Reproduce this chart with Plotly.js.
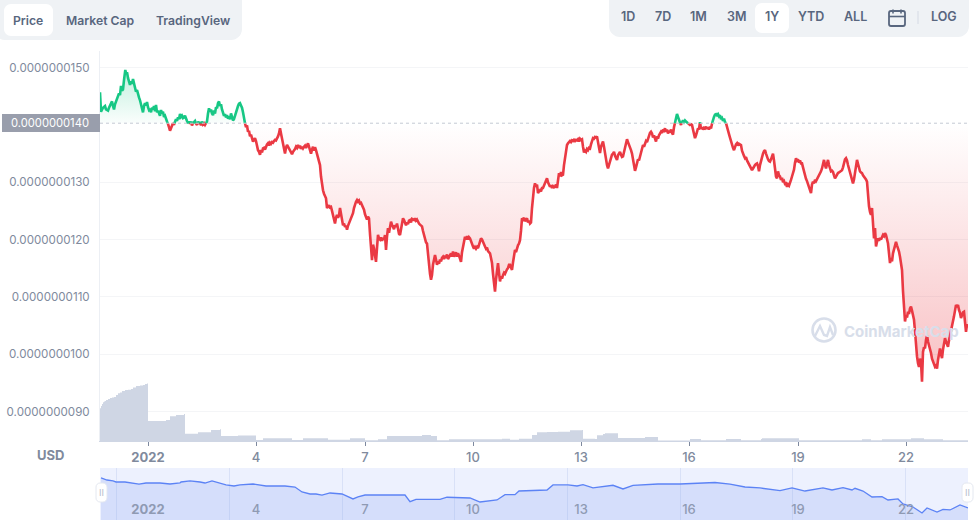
<!DOCTYPE html>
<html>
<head>
<meta charset="utf-8">
<script src="https://cdn.plot.ly/plotly-3.0.1.min.js"></script>
<style>html,body{margin:0;padding:0;background:#fff;overflow:hidden}#chart{width:977px;height:527px}</style>
</head>
<body>
<div id="chart"></div>
<script>
const sampleIndex = [
0,0.4,1,3,5,6,8,9,10.5,12,
13,14,15,16.5,18,19,20,21,22,23,
24,25.3,26,27,28,29,30,31,32,33,
34,35,36,37,38,39,40,41,42,43,
44,45,46,47,48,49,50,51,52,53,
54,55,56,57,58,59,60,61,62,63,
64,65,66,67,68,69,70,71,72,73,
74,75,76,77,78,79,80,81,82,83,
84,85,86,87,88,89,90,91,92,93,
94,95,96,97,98,99,100,101,102,103,
104,105,106,107,108,109,110,111,112,113,
114,115,116,117,118,119,120,121,122,123,
124,125,126,127,128,129,130,131,132,133,
134,135,136,137,138,139,140,141,142,143,
144,145,146,147,148,149,150,151,152,153,
154,155,156,157,158,159,160,161,162,163,
164,165,166,167,168,169,170,171,172,173,
174,175,176,177,178,179,180,181,182,183,
184,185,186,187,188,189,190,191,192,193,
194,195,196,197,198,199,200,201,202,203,
204,205,206,207,208,209,210,211,212,213,
214,215,216,217,218,219,220,221,222,223,
224,225,226,227,228,229,230,231,232,233,
234,235,236,237,238,239,240,241,242,243,
244,245,246,247,248,249,250,251,252,253,
254,255,256,257,258,259,260,261,262,263,
264,265,266,267,268,269,270,271,272,273,
274,275,276,277,278,279,280,281,282,283,
284,285,286,287,288,289,290,291,292,293,
294,295,296,297,298,299,300,301,302,303,
304,305,306,307,308,309,310,311,312,313,
314,315,316,317,318,319,320,321,322,323,
324,325,326,327,328,329,330,331,332,333,
334,335,336,337,338,339,340,341,342,343,
344,345,346,347,348,349,350,351,352,353,
354,355,356,357,358,359,360,361,362,363,
364,365,366,367,368,369,370,371,372,373,
374,375,376,377,378,379,380,381,382,383,
384,385,386,387,388,389,390,391,392,393,
394,395,396,397,398,399,400,401,402,403,
404,405,406,407,408,409,410,411,412,413,
414,415,416,417,418,419,420,421,422,423,
424,425,426,427,428,429,430,431,432,433,
434,435,436,437,438,439,440,441,442,443,
444,445,446,447,448,449,450,451,452,453,
454,455,456,457,458,459,460,461,462,463,
464,465,466,467,468,469,470,471,472,473,
474,475,476,477,478,479,480,481,482,483,
484,485,486,487,488,489,490,491,492,493,
494,495,496,497,498,499,500,501,502,503,
504,505,506,507,508,509,510,511,512,513,
514,515,516,517,518,519,520,521,522,523,
524,525,526,527,528,529,530,531,532,533,
534,535,536,537,538,539,540,541,542,543,
544,545,546,547,548,549,550,551,552,553,
554,555,556,557,558,559,560,561,562,563,
564,565,566,567,568,569,570,571,572,573,
574,575,576,577,578,579,580,581,582,583,
584,585,586,587,588,589,590,591,592,593,
594,595,596,597,598,599,600,601,602,603,
604,605,606,607,608,609,610,611,612,613,
614,615,616,617,618,619,620,621,622,623,
624,625,626,627,628,629,630,631,632,633,
634,635,636,637,638,639,640,641,642,643,
644,645,646,647,648,649,650,651,652,653,
654,655,656,657,658,659,660,661,662,663,
664,665,666,667,668,669,670,671,672,673,
674,675,676,677,678,679,680,681,682,683,
684,685,686,687,688,689,690,691,692,693,
694,695,696,697,698,699,700,701,702,703,
704,705,706,707,708,709,710,711,712,713,
714,715,716,717,718,719,720,721,722,723,
724,725,726,727,728,729,730,731,732,733,
734,735,736,737,738,739,740,741,742,743,
744,745,746,747,748,749,750,751,752,753,
754,755,756,757,758,759,760,761,762,763,
764,765,766,767,768,769,770,771,772,773,
774,775,776,777,778,779,780,781,782,783,
784,785,786,787,788,789,790,791,792,793,
794,795,796,797,798,799,800,801,802,803,
804,805,806,807,808,809,810,811,812,813,
814,815,816,817,818,819,820,821,822,823,
824,825,826,827,828,829,830,831,832,833,
834,835,836,837,838,839,840,841,842,843,
844,845,846,847,848,849,850,851,852,853,
854,855,856,857,858,859,860,861,862,863,
864,865,866,867,868];
const priceNanoUsd = [
14.57,14.26,14.23,14.30,14.33,14.27,14.25,14.30,14.35,14.41,
14.33,14.27,14.36,14.43,14.50,14.55,14.52,14.68,14.60,14.62,
14.78,14.96,14.90,14.92,14.82,14.74,14.70,14.76,14.72,14.80,
14.74,14.66,14.58,14.61,14.52,14.48,14.43,14.36,14.30,14.22,
14.33,14.38,14.34,14.40,14.31,14.26,14.28,14.22,14.30,14.27,
14.33,14.24,14.35,14.22,14.25,14.18,14.16,14.26,14.20,14.23,
14.14,14.16,14.08,14.06,14.02,13.96,13.90,13.95,13.99,14.03,
14.00,14.07,14.10,14.07,14.13,14.10,14.19,14.14,14.16,14.12,
14.13,14.16,14.10,14.07,14.03,14.06,14.02,14.06,13.99,14.04,
14.05,14.07,14.02,14.00,14.06,14.02,14.05,13.99,14.06,14.01,
14.03,14.00,14.03,14.06,14.20,14.29,14.23,14.27,14.20,14.17,
14.25,14.20,14.31,14.29,14.38,14.41,14.33,14.36,14.27,14.23,
14.16,14.19,14.13,14.17,14.11,14.15,14.10,14.20,14.14,14.08,
14.10,14.17,14.24,14.30,14.33,14.37,14.38,14.34,14.30,14.22,
14.10,14.03,13.96,13.99,13.88,13.90,13.80,13.83,13.76,13.71,
13.74,13.77,13.72,13.62,13.56,13.53,13.48,13.56,13.52,13.59,
13.60,13.57,13.62,13.66,13.68,13.64,13.69,13.67,13.70,13.69,
13.72,13.74,13.73,13.76,13.80,13.85,13.94,13.85,13.77,13.68,
13.62,13.50,13.60,13.65,13.62,13.58,13.56,13.52,13.49,13.53,
13.55,13.58,13.62,13.60,13.65,13.60,13.64,13.58,13.62,13.59,
13.62,13.64,13.60,13.66,13.68,13.62,13.56,13.50,13.57,13.62,
13.55,13.61,13.56,13.50,13.46,13.40,13.30,13.10,12.92,12.86,
12.80,12.76,12.72,12.55,12.58,12.60,12.56,12.57,12.50,12.44,
12.36,12.28,12.38,12.43,12.38,12.42,12.55,12.44,12.34,12.25,
12.28,12.22,12.24,12.17,12.24,12.28,12.34,12.38,12.43,12.46,
12.55,12.62,12.66,12.69,12.66,12.68,12.63,12.64,12.60,12.56,
12.52,12.44,12.40,12.35,12.40,12.37,12.10,11.80,11.64,11.91,
11.85,11.72,11.61,11.85,12.08,12.02,12.00,12.04,11.98,12.03,
12.00,12.08,11.82,12.05,12.20,12.12,12.26,12.31,12.26,12.20,
12.18,12.25,12.22,12.28,12.14,12.10,12.08,12.20,12.30,12.37,
12.34,12.28,12.25,12.30,12.27,12.33,12.34,12.30,12.36,12.35,
12.34,12.37,12.33,12.35,12.30,12.28,12.26,12.25,12.23,12.15,
12.08,12.05,11.95,11.93,11.72,11.56,11.40,11.30,11.38,11.56,
11.67,11.73,11.65,11.56,11.62,11.58,11.65,11.62,11.68,11.70,
11.66,11.72,11.68,11.74,11.66,11.70,11.72,11.76,11.70,11.79,
11.70,11.74,11.78,11.70,11.76,11.72,11.66,11.61,11.78,11.90,
12.00,12.05,12.00,12.06,12.00,12.04,12.02,11.96,11.90,11.88,
11.84,11.87,11.84,11.87,11.85,11.90,11.98,12.02,12.00,11.95,
11.92,11.88,11.84,11.86,11.80,11.78,11.76,11.68,11.59,11.40,
11.20,11.09,11.30,11.45,11.59,11.42,11.27,11.36,11.32,11.38,
11.42,11.40,11.46,11.48,11.50,11.56,11.56,11.52,11.47,11.60,
11.72,11.82,11.78,11.85,11.90,11.93,11.99,12.15,12.37,12.35,
12.38,12.32,12.36,12.37,12.30,12.33,12.28,12.30,12.55,12.75,
12.90,12.98,12.92,12.96,12.81,12.84,12.86,12.84,12.90,12.90,
12.95,13.00,13.02,13.07,13.00,12.96,12.92,12.95,12.90,12.93,
12.91,12.92,12.96,12.90,13.05,13.16,13.10,13.18,13.12,13.13,
13.30,13.45,13.58,13.65,13.68,13.70,13.72,13.70,13.73,13.72,
13.74,13.72,13.74,13.73,13.75,13.71,13.76,13.74,13.75,13.62,
13.52,13.55,13.53,13.58,13.56,13.60,13.59,13.66,13.72,13.77,
13.76,13.79,13.78,13.80,13.70,13.62,13.51,13.62,13.68,13.71,
13.62,13.50,13.38,13.30,13.24,13.30,13.36,13.44,13.48,13.50,
13.53,13.46,13.42,13.39,13.47,13.50,13.53,13.48,13.44,13.45,
13.54,13.62,13.68,13.75,13.70,13.66,13.60,13.56,13.50,13.38,
13.28,13.20,13.26,13.34,13.40,13.38,13.45,13.55,13.60,13.65,
13.62,13.68,13.72,13.70,13.76,13.84,13.86,13.88,13.85,13.78,
13.82,13.76,13.71,13.80,13.76,13.82,13.84,13.88,13.86,13.92,
13.90,13.94,13.88,13.92,13.85,13.90,13.87,13.92,13.86,13.83,
13.96,14.04,14.12,14.19,14.14,14.07,14.04,14.00,14.05,14.08,
14.05,14.08,14.06,14.05,14.03,14.02,14.00,14.01,14.00,13.92,
13.84,13.77,13.82,13.88,13.94,13.92,14.05,13.93,13.96,13.92,
13.95,13.94,13.97,13.93,13.96,13.92,13.97,13.94,14.02,14.10,
14.14,14.18,14.19,14.17,14.19,14.15,14.17,14.10,14.12,14.07,
14.11,14.05,14.03,13.95,13.90,13.84,13.78,13.71,13.66,13.60,
13.56,13.62,13.66,13.68,13.64,13.67,13.66,13.65,13.55,13.48,
13.46,13.42,13.44,13.38,13.34,13.30,13.26,13.22,13.21,13.24,
13.28,13.30,13.32,13.33,13.28,13.19,13.30,13.38,13.46,13.50,
13.54,13.56,13.50,13.44,13.40,13.37,13.36,13.40,13.46,13.50,
13.38,13.20,13.10,13.07,13.19,13.12,13.10,13.04,13.08,13.00,
13.02,12.97,12.98,12.92,12.96,12.94,12.98,13.04,13.10,13.16,
13.22,13.34,13.42,13.38,13.40,13.34,13.38,13.33,13.33,13.26,
13.18,13.10,13.06,13.02,12.96,12.90,12.84,12.81,12.96,13.01,
12.98,13.04,13.02,13.05,13.10,13.12,13.16,13.19,13.24,13.32,
13.39,13.30,13.24,13.32,13.39,13.30,13.24,13.19,13.20,13.18,
13.12,13.07,13.10,13.14,13.16,13.17,13.18,13.19,13.21,13.26,
13.34,13.40,13.42,13.38,13.30,13.24,13.18,13.10,13.02,12.98,
13.05,13.18,13.32,13.39,13.32,13.24,13.19,13.17,13.16,13.12,
13.10,13.08,13.05,13.01,12.69,12.58,12.48,12.43,12.55,12.30,
12.02,12.20,11.88,11.96,12.02,11.98,12.03,12.00,12.05,12.08,
12.06,12.11,12.08,12.02,11.93,11.76,11.59,11.68,11.62,11.76,
11.84,11.90,11.96,11.90,11.86,11.79,11.70,11.60,11.47,11.10,
10.71,10.57,10.68,10.64,10.74,10.70,10.80,10.83,10.76,10.66,
10.60,10.40,10.15,9.96,9.84,9.78,9.92,9.87,9.52,10.04,
10.12,10.10,10.25,10.33,10.22,10.16,10.10,10.02,9.92,9.87,
9.84,9.78,9.80,9.75,9.90,10.02,10.10,10.00,9.93,10.08,
10.20,10.28,10.22,10.18,10.13,10.24,10.32,10.38,10.45,10.54,
10.66,10.76,10.86,10.82,10.86,10.77,10.72,10.63,10.70,10.73,
10.74,10.55,10.39,10.52,10.46];
const basePrice = 14.03;

const volumeIndex = [0,1,2,3,4,5,6,8,10,12,14,16,18,20,22,25,28,31,33,36,40,43,45,47.5,48,66,70,76,84,85,98,111,120,121,138,156,157,163,192,203,228,250,265,278,287,322,331,337,349,402,403,410,419,432,437,440,447,458,470,482,483,495,497,503,505,517,518,543,545,554,558,590,601,626,641,661,662,698,699,762,771,782,811,824,843,868];
const volumeValue = [32.7,35,37,38.7,39.5,40,41,42,43,43.5,44,46,47.7,48.5,50,51,51.3,52,53.5,55,55.5,56,57,58,20,21,24.7,26,27,7.3,8.7,11,11.7,5,5.5,1,1,2.7,1,2.7,1.3,2.7,0.7,1.7,5,6,5,0.7,1.7,2.3,2.3,1.3,2.3,6,8.7,8.7,9,9.3,10.7,11,2.3,2,5.7,7,7.7,7.7,3,3,4,4,0.5,2,0.7,2,0.7,2,2.7,2.7,0.7,1.7,0.7,1.7,2.7,1.7,0.7,0.7];

const navIndex = [1,7,13,16,25,33,39,46,60,70,80,81,90,100,105,112,118,126,134,140,153,158,166,175,185,195,198,202,210,216,222,230,242,250,253,258,265,280,295,305,310,316,340,347,370,380,397,405,415,419,447,453,468,477,483,493,513,523,533,558,580,600,615,630,645,660,670,680,692,705,723,732,743,752,755,763,772,782,788,798,803,813,822,827,837,843,850,860,868];
const navPrice = [14.93,14.61,14.46,14.30,14.30,14.14,13.98,14.14,14.14,13.98,14.14,14.30,14.46,14.30,14.14,14.46,14.14,13.83,13.67,13.83,13.98,13.83,13.67,13.67,13.67,13.51,13.20,12.73,12.41,12.41,12.25,12.57,12.41,11.78,11.63,11.94,12.25,12.25,12.25,12.25,11.2,11.58,11.58,11.9,11.78,11.15,11.47,12.3,12.3,12.88,13.04,13.83,13.83,13.67,13.87,13.36,13.78,13.2,13.78,13.98,13.98,14.14,14.22,13.98,13.51,13.36,13.2,12.93,13.36,12.88,13.36,13.04,13.4,13.04,13.31,12.88,11.94,11.99,11.47,11.63,10.84,10.37,9.42,10.21,9.58,10.0,9.9,10.68,10.21];

const priceTicks = [15,13,12,11,10,9];
const priceTickLabels = ['0.0000000150','0.0000000130','0.0000000120','0.0000000110','0.0000000100','0.0000000090'];
const baseLabel = '0.0000000140';
const timeTicks = [48,156,265,373,481,589,698,806];
const timeLabels = ['<b>2022</b>','4','7','10','13','16','19','22'];
const navGridTicks = [16,129,242,354,467,580,692,805];
const leftTabs = ['Price','Market Cap','TradingView'];
const rightTabs = ['1D','7D','1M','3M','1Y','YTD','ALL','LOG'];

// split the price line where it crosses the base price
const xs = [], ys = [];
for (let i = 0; i < sampleIndex.length; i++) {
  if (i > 0) {
    const a = priceNanoUsd[i-1], b = priceNanoUsd[i];
    if ((a - basePrice) * (b - basePrice) < 0) {
      const t = (basePrice - a) / (b - a);
      xs.push(sampleIndex[i-1] + t * (sampleIndex[i] - sampleIndex[i-1]));
      ys.push(basePrice);
    }
  }
  xs.push(sampleIndex[i]); ys.push(priceNanoUsd[i]);
}
const above = ys.map(v => v >= basePrice ? v : null);
const below = ys.map(v => v <= basePrice ? v : null);
const clipUp = ys.map(v => Math.max(v, basePrice));
const clipDn = ys.map(v => Math.min(v, basePrice));
const baseRow = ys.map(() => basePrice);

const GREEN = '#16c784', RED = '#ea3943', TXT = '#808a9d', CHIP = '#eff2f5', DARK = '#58667e';
const hidden = {width: 0};
const traces = [
  {x: xs, y: baseRow, mode: 'lines', line: hidden, hoverinfo: 'skip', showlegend: false},
  {x: xs, y: clipUp, mode: 'lines', line: hidden, fill: 'tonexty', hoverinfo: 'skip', showlegend: false,
   fillgradient: {type: 'vertical', start: basePrice, stop: 15,
     colorscale: [[0, 'rgba(22,199,132,0.02)'], [1, 'rgba(22,199,132,0.28)']]}},
  {x: xs, y: baseRow, mode: 'lines', line: hidden, hoverinfo: 'skip', showlegend: false},
  {x: xs, y: clipDn, mode: 'lines', line: hidden, fill: 'tonexty', hoverinfo: 'skip', showlegend: false,
   fillgradient: {type: 'vertical', start: 9.5, stop: basePrice,
     colorscale: [[0, 'rgba(234,57,67,0.32)'], [1, 'rgba(234,57,67,0.0)']]}},
  {x: volumeIndex, y: volumeValue, yaxis: 'y2', mode: 'lines', line: {shape: 'hv', width: 0}, fill: 'tozeroy',
   fillcolor: '#cfd6e4', hoverinfo: 'skip', showlegend: false},
  {x: xs, y: below, mode: 'lines', line: {color: RED, width: 2.6}, hoverinfo: 'skip', showlegend: false},
  {x: xs, y: above, mode: 'lines', line: {color: GREEN, width: 2.6}, hoverinfo: 'skip', showlegend: false},
  {x: navIndex, y: navPrice, xaxis: 'x2', yaxis: 'y3', mode: 'lines', line: {color: '#5c83f5', width: 1.3},
   fill: 'tozeroy', fillcolor: 'rgba(120,150,240,0.2)', hoverinfo: 'skip', showlegend: false}
];

// page pixel to paper coordinates for the surrounding chrome
const L = 100, R = 968, T = 51, B = 520;
const xp = x => (x - L) / (R - L);
const yp = y => (B - y) / (B - T);
function roundRect(x0, y0, x1, y1, r) {
  const k = 0.45 * r;
  const P = (x, y) => xp(x) + ',' + yp(y);
  return 'M' + P(x0 + r, y0) + ' L' + P(x1 - r, y0) +
    ' C' + P(x1 - k, y0) + ' ' + P(x1, y0 + k) + ' ' + P(x1, y0 + r) +
    ' L' + P(x1, y1 - r) + ' C' + P(x1, y1 - k) + ' ' + P(x1 - k, y1) + ' ' + P(x1 - r, y1) +
    ' L' + P(x0 + r, y1) + ' C' + P(x0 + k, y1) + ' ' + P(x0, y1 - k) + ' ' + P(x0, y1 - r) +
    ' L' + P(x0, y0 + r) + ' C' + P(x0, y0 + k) + ' ' + P(x0 + k, y0) + ' ' + P(x0 + r, y0) + ' Z';
}
const box = (x0, y0, x1, y1, r, fill, line, w) => ({type: 'path', xref: 'paper', yref: 'paper', path: roundRect(x0, y0, x1, y1, r),
  fillcolor: fill, line: line ? {color: line, width: w || 1} : {width: 0}});
const stroke = (pts, color, width) => ({type: 'path', xref: 'paper', yref: 'paper',
  path: 'M' + pts.map(p => xp(p[0]) + ',' + yp(p[1])).join(' L'), line: {color, width}});
const circle = (cx, cy, r, color, width) => ({type: 'circle', xref: 'paper', yref: 'paper',
  x0: xp(cx - r), x1: xp(cx + r), y0: yp(cy + r), y1: yp(cy - r), line: {color, width}});
const label = (text, x, y, size, color, weight, anchor) => ({text, xref: 'paper', yref: 'paper', x: xp(x), y: yp(y),
  xanchor: anchor || 'center', yanchor: 'middle', showarrow: false, font: {family: 'Inter, sans-serif', size, color, weight: weight || 600}});

const leftX = [28, 99.5, 192.5];
const rightX = [628, 663, 698, 736, 772, 811, 855, 944];

const shapes = [
  {type: 'rect', xref: 'x2 domain', yref: 'y3 domain', x0: 0, x1: 1, y0: 0, y1: 1, fillcolor: '#edf1fe', line: {width: 0}, layer: 'below'},
  {type: 'line', xref: 'x domain', yref: 'y', x0: 0, x1: 1, y0: basePrice, y1: basePrice, line: {color: '#c4c9d4', width: 1, dash: 'dot'}},
  box(-6, -10, 242, 40, 11, CHIP),
  box(4, 4, 53, 36, 7, '#ffffff'),
  box(609, -10, 969, 37, 11, CHIP),
  box(755, 3, 789, 33, 7, '#ffffff'),
  box(889, 11, 905, 26, 2, 'rgba(0,0,0,0)', DARK, 1.8),
  stroke([[889, 16.5], [905, 16.5]], DARK, 1.6),
  stroke([[893, 9.5], [893, 13.5]], DARK, 1.6),
  stroke([[901, 9.5], [901, 13.5]], DARK, 1.6),
  stroke([[918, 11], [918, 24]], '#d5dae4', 1),
  box(2, 114, 100, 132, 0, '#999eac'),
  circle(824, 330, 11.5, '#d8deea', 2.6),
  stroke([[815, 336], [820, 326], [824, 335], [827, 336], [830, 327], [833, 335]], '#d8deea', 2.4),
  box(96, 483, 107, 502, 4, '#ffffff', '#e4e8f0'),
  box(962, 483, 973, 502, 4, '#ffffff', '#e4e8f0')
];

const annotations = [
  label(baseLabel, 91, 123, 11.2, '#ffffff', 400, 'right'),
  label('USD', 50, 455, 13, TXT, 700),
  label('CoinMarketCap', 901, 331, 15, '#d8deea', 700),
  label('II', 101.5, 492.5, 9, '#b4bccb', 400),
  label('II', 967.5, 492.5, 9, '#b4bccb', 400)
];
leftTabs.forEach((t, i) => annotations.push(label(t, leftX[i], 20, 12.2, DARK, 600)));
rightTabs.forEach((t, i) => annotations.push(label(t, rightX[i], 17, 12.5, DARK, 600)));

const layout = {
  width: 977, height: 527,
  margin: {l: L, r: 977 - R, t: T, b: 527 - B, pad: 0},
  paper_bgcolor: '#ffffff', plot_bgcolor: '#ffffff',
  showlegend: false, hovermode: false,
  font: {family: 'Inter, sans-serif', color: TXT},
  xaxis: {domain: [0, 1], range: [0, 868], anchor: 'y', tickmode: 'array', tickvals: timeTicks, ticktext: timeLabels,
    ticks: 'outside', ticklen: 4, tickwidth: 1, tickcolor: '#7d889e', showgrid: false, zeroline: false,
    showline: true, linecolor: '#cfd6e4', linewidth: 1, tickfont: {size: 13, color: TXT, weight: 500}, fixedrange: true},
  yaxis: {domain: [(B - 441) / (B - T), 1], range: [8.485, 15.29], anchor: 'x', side: 'left', tickmode: 'array',
    tickvals: priceTicks, ticktext: priceTickLabels, ticks: 'outside', ticklen: 7, tickcolor: 'rgba(0,0,0,0)',
    gridcolor: '#f4f5f7', gridwidth: 1, zeroline: false, showline: true, linecolor: '#eceff4', linewidth: 1,
    tickfont: {size: 11.6, color: TXT}, fixedrange: true},
  yaxis2: {domain: [(B - 441) / (B - T), 1], range: [0, 390], anchor: 'x', overlaying: 'y', visible: false, fixedrange: true},
  xaxis2: {domain: [0, 1], range: [0, 868], anchor: 'y3', tickmode: 'array', tickvals: timeTicks, ticktext: timeLabels,
    ticks: '', ticklabelposition: 'inside', showgrid: false, zeroline: false, showline: false,
    tickfont: {size: 13, color: '#8f9ab3', weight: 500}, fixedrange: true,
    minor: {tickmode: 'array', tickvals: navGridTicks, showgrid: true, gridcolor: '#d9e1f7', gridwidth: 1, ticks: ''}},
  yaxis3: {domain: [0, (B - 468) / (B - T)], range: [8.32, 16.5], anchor: 'x2', visible: false, fixedrange: true},
  shapes, annotations
};

Plotly.newPlot('chart', traces, layout, {displayModeBar: false, staticPlot: true});
</script>
</body>
</html>
